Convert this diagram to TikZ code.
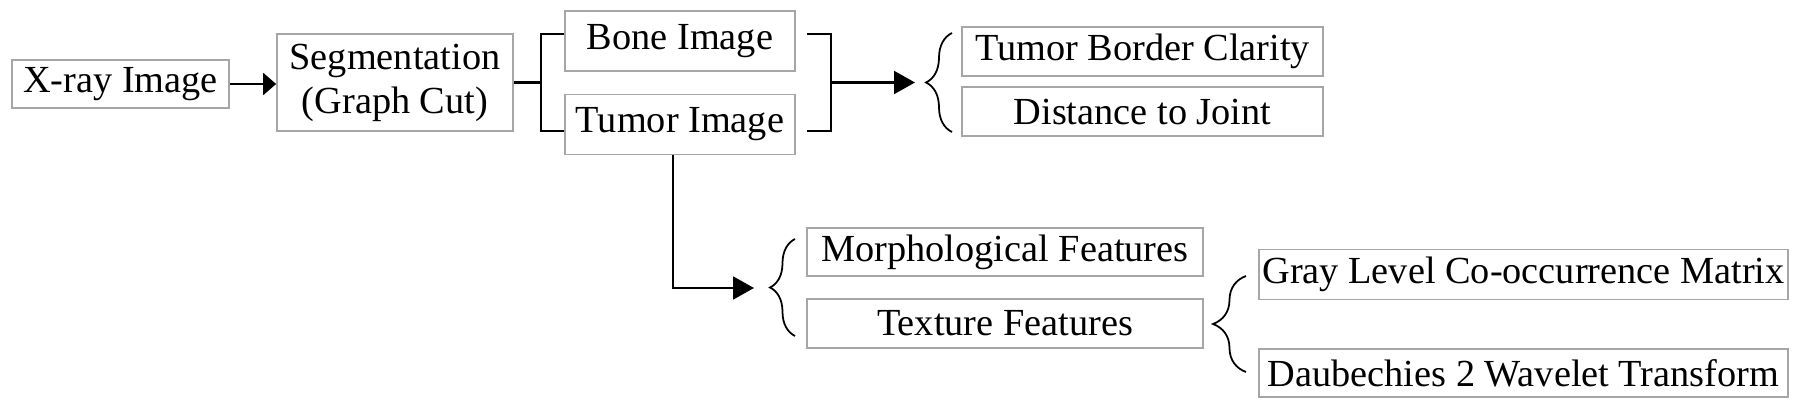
\documentclass[tikz,border=0pt]{standalone}
\usepackage{fontspec}
\setmainfont{Liberation Serif}
\usetikzlibrary{arrows.meta,decorations.pathreplacing}

\begin{document}
\begin{tikzpicture}[thick, x=0.02cm, y=-0.02cm]
      \tikzstyle{every node} = [inner sep = 0pt, font=\fontsize{21.8}{25}\selectfont];
      \tikzstyle{box} = [draw=black!35, line width=1pt, align=center];
      \tikzstyle{link} = [line width=1.2pt];
      \tikzstyle{arr} = [link, -{Triangle[length=0.42cm, width=0.46cm]}];
      \tikzstyle{curly} = [line width=1pt, decorate, decoration={brace, amplitude=0.5cm}];
      \useasboundingbox (0,0) rectangle (1800,408);

      % boxes
      \node(xray) [box, minimum width=4.34cm, minimum height=0.96cm] at (120.5,84) {X-ray Image};
      \node(seg) [box, minimum width=4.72cm, minimum height=1.94cm] at (395,82.5) {Segmentation\\(Graph Cut)};
      \node(bone) [box, minimum width=4.6cm, minimum height=1.2cm] at (680,41) {Bone Image};
      \node(tumor) [box, minimum width=4.6cm, minimum height=1.2cm] at (680,124.5) {Tumor Image};
      \node(border) [box, minimum width=7.22cm, minimum height=0.98cm] at (1142.5,51.3) {Tumor Border Clarity};
      \node(joint) [box, minimum width=7.22cm, minimum height=0.98cm] at (1142.5,111.7) {Distance to Joint};
      \node(morph) [box, minimum width=7.92cm, minimum height=0.96cm] at (1005,252) {Morphological Features};
      \node(texture) [box, minimum width=7.92cm, minimum height=0.98cm] at (1005,323.5) {Texture Features};
      \node(glcm) [box, minimum width=10.58cm, minimum height=1.0cm] at (1523.5,274.5) {Gray Level Co-occurrence Matrix};
      \node(daub) [box, minimum width=10.58cm, minimum height=0.96cm] at (1523.5,373) {Daubechies 2 Wavelet Transform};

      % connectors
      \coordinate (splitL) at (541,82.5);
      \coordinate (mergeR) at (831,82.5);
      \coordinate (tip1) at (915,82.5);
      \coordinate (tip2) at (754,288);
      \draw[arr, -{Triangle[length=0.26cm, width=0.44cm]}] (xray.east) -- (xray.east -| seg.west);
      \draw[link] (seg.east) -- (splitL);
      \draw[link] ([yshift=0.14cm]bone.west) -| (splitL) |- ([yshift=-0.13cm]tumor.west);
      \draw[link] ([xshift=0.22cm, yshift=0.14cm]bone.east) -| (mergeR) |- ([xshift=0.22cm, yshift=-0.13cm]tumor.east);
      \draw[arr] (mergeR) -- (tip1);
      \draw[arr] ([xshift=-0.14cm]tumor.south) |- (tip2);

      % braces
      \draw[curly, decoration={amplitude=0.52cm}] (952,132) -- (952,33);
      \draw[curly] (795,336) -- (795,239);
      \draw[curly, decoration={amplitude=0.66cm}] (1246,372) -- (1246,276);
    \end{tikzpicture}
\end{document}
